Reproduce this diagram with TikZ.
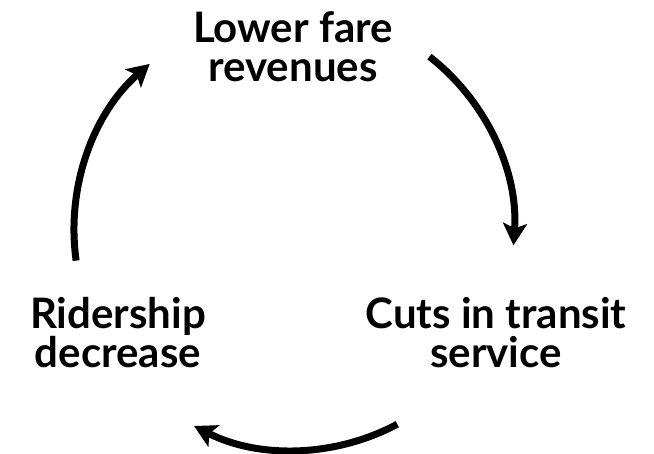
\documentclass[tikz,border=0pt]{standalone}
\usepackage{fontspec}
\setmainfont{Lato}
\usepackage{tikz}
\usetikzlibrary{arrows.meta,calc}
\tikzstyle{line} = [draw, line width=7pt, -{Stealth[length=22pt,width=24pt,inset=5pt]}]
\tikzstyle{stage} = [text centered, align=center, inner sep=0pt, font=\fontsize{42}{39}\selectfont\bfseries]

\begin{document}
\begin{tikzpicture}[x=1pt, y=1pt]
        \useasboundingbox (0,0) rectangle (654,454);
        \coordinate (hub) at (294,224);
        \node[stage] (fare) at (293,407) {Lower fare\\revenues};
        \node[stage] (cuts) at (496,121) {Cuts in transit\\service};
        \node[stage] (riders) at (118,121) {Ridership\\decrease};
        \coordinate (a1) at ($(hub)+(52:220)$);
        \coordinate (a2) at ($(hub)+(-62:220)$);
        \coordinate (a3) at ($(hub)+(188:220)$);
        \path[line] (a1) arc[start angle=52, end angle=-4, radius=220];
        \path[line] (a2) arc[start angle=-62, end angle=-117, radius=220];
        \path[line] (a3) arc[start angle=188, end angle=131, radius=220];
    \end{tikzpicture}
\end{document}
